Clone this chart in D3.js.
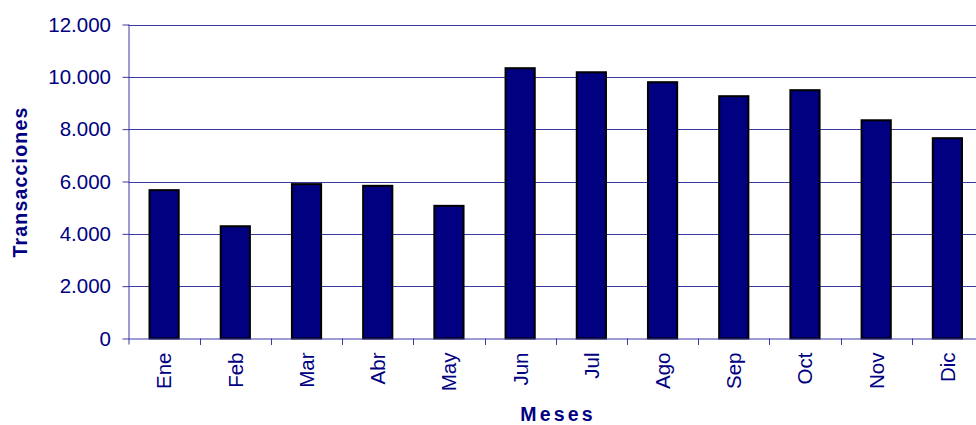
<!DOCTYPE html>
<html>
<head>
<meta charset="utf-8">
<script src="https://cdn.jsdelivr.net/npm/d3@7"></script>
<style>
  body { margin: 0; background: #fff; overflow: hidden; }
  svg { display: block; font-family: Arial, "Liberation Sans", sans-serif; }
</style>
</head>
<body>
<svg id="chart" width="976" height="425"></svg>
<script>
const months = ["Ene","Feb","Mar","Abr","May","Jun","Jul","Ago","Sep","Oct","Nov","Dic"];
const transacciones = [5670, 4290, 5900, 5835, 5070, 10330, 10175, 9795, 9260, 9490, 8340, 7655];
const yTicks = [0, 2000, 4000, 6000, 8000, 10000, 12000];
const yTickLabels = ["0", "2.000", "4.000", "6.000", "8.000", "10.000", "12.000"];
const xTitle = "Meses";
const yTitle = "Transacciones";

const navy = "#000080";
const gridColor = "#3a3aa4";

const svg = d3.select("#chart");
const mLeft = 128.5, mRight = 983, mTop = 24.5, mBottom = 338.5;

const x = d3.scaleBand().domain(months).range([mLeft, mRight]).padding(0);
const y = d3.scaleLinear().domain([0, 12000]).range([mBottom, mTop]);

// gridlines
svg.append("g").selectAll("line").data(yTicks.filter(d => d > 0)).join("line")
  .attr("x1", mLeft).attr("x2", mRight)
  .attr("y1", d => Math.round(y(d)) + 0.5).attr("y2", d => Math.round(y(d)) + 0.5)
  .attr("stroke", gridColor).attr("stroke-width", 1);

// bars
const barW = x.bandwidth() * 0.41;
svg.append("g").selectAll("rect").data(months).join("rect")
  .attr("x", (d) => x(d) + x.bandwidth() / 2 - barW / 2)
  .attr("y", (d, i) => y(transacciones[i]))
  .attr("width", barW)
  .attr("height", (d, i) => y(0) - y(transacciones[i]))
  .attr("fill", navy)
  .attr("stroke", "#000")
  .attr("stroke-width", 2);

// y axis
const yAxis = d3.axisLeft(y).tickValues(yTicks).tickSize(6)
  .tickFormat((d, i) => yTickLabels[i]).tickPadding(12);
const yg = svg.append("g").attr("transform", `translate(${mLeft},0)`).call(yAxis);
yg.select(".domain").attr("stroke", gridColor).attr("d", `M0.5,${mTop}V${mBottom + 6}`);
yg.selectAll(".tick line").attr("stroke", gridColor).attr("x2", -6).attr("x1", 0.5);
yg.selectAll(".tick text").attr("fill", navy).attr("font-size", "20.5px")
  .attr("font-family", "Arial, 'Liberation Sans', sans-serif").attr("x", -17.5);

// x axis
const xAxis = d3.axisBottom(x).tickSize(0).tickFormat(d => d);
const xg = svg.append("g").attr("transform", `translate(0,${mBottom})`).call(xAxis);
xg.select(".domain").attr("stroke", gridColor).attr("d", `M${mLeft},0.5H${mRight}`);
xg.selectAll(".tick text")
  .attr("fill", navy).attr("font-size", "20.5px")
  .attr("font-family", "Arial, 'Liberation Sans', sans-serif")
  .attr("text-anchor", "end")
  .attr("transform", "rotate(-90)")
  .attr("x", -14).attr("y", 0).attr("dy", "0.36em");
// category separator ticks
xg.append("g").selectAll("line").data(months.slice(1)).join("line")
  .attr("x1", d => Math.round(x(d)) + 0.5).attr("x2", d => Math.round(x(d)) + 0.5)
  .attr("y1", 0).attr("y2", 6.5)
  .attr("stroke", gridColor);

// titles
svg.append("text")
  .attr("transform", "translate(27,182) rotate(-90)")
  .attr("text-anchor", "middle")
  .attr("fill", navy).attr("font-weight", "bold").attr("font-size", "19.5px")
  .attr("letter-spacing", "1.2px")
  .text(yTitle);

svg.append("text")
  .attr("x", 558).attr("y", 421)
  .attr("text-anchor", "middle")
  .attr("fill", navy).attr("font-weight", "bold").attr("font-size", "19.5px")
  .attr("letter-spacing", "3.2px")
  .text(xTitle);
</script>
</body>
</html>
